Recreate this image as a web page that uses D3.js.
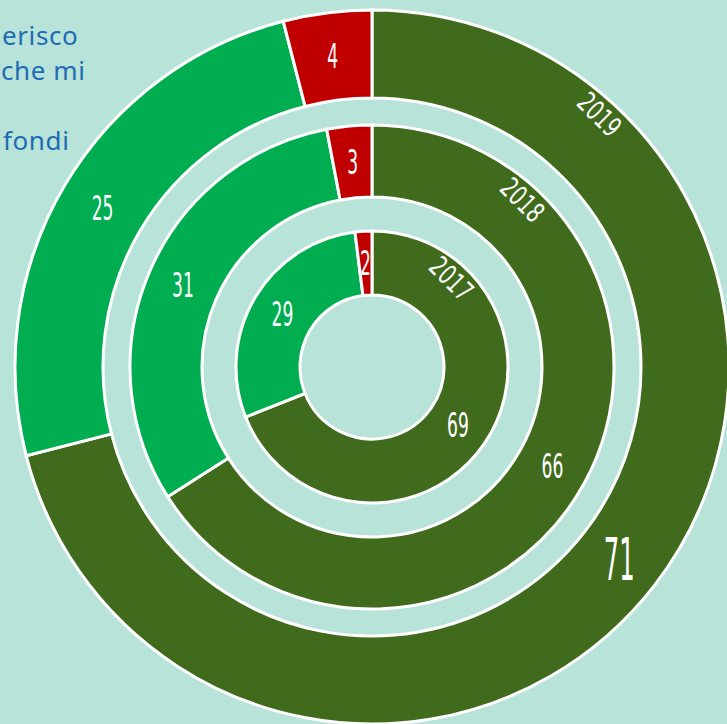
<!DOCTYPE html>
<html>
<head>
<meta charset="utf-8">
<script src="https://cdn.jsdelivr.net/npm/d3@7"></script>
<style>
  html, body { margin: 0; padding: 0; background: #b8e3d9; overflow: hidden; }
</style>
</head>
<body>
<div id="chart"></div>
<script>
// Data (percent of answers per year, rings from inside out)
const years = ["2017", "2018", "2019"];
const darkValues = [69, 66, 71];
const lightValues = [29, 31, 25];
const redValues = [2, 3, 4];
const legendLines = ["erisco", "che mi", "", "fondi"];

const width = 727, height = 724;
const cx = 372, cy = 367;
const bg = "#b8e3d9";
const colors = { dark: "#406b1c", light: "#00ad50", red: "#c00000" };

// ring radii, inner -> outer
const rings = [
  { inner: 72, outer: 136 },
  { inner: 170, outer: 242 },
  { inner: 269, outer: 357 }
];

const svg = d3.select("#chart")
  .append("svg")
  .attr("width", width)
  .attr("height", height);

svg.append("rect")
  .attr("width", width)
  .attr("height", height)
  .attr("fill", bg);

// Legend text, partly hidden behind the chart
svg.append("g")
  .selectAll("text")
  .data(legendLines)
  .enter()
  .append("text")
  .attr("x", (d, i) => [2, 1, 0, 3][i])
  .attr("y", (d, i) => 45 + i * 35)
  .attr("text-anchor", "start")
  .style("font-family", "'Noto Sans', sans-serif")
  .style("font-size", "26px")
  .style("letter-spacing", "0.6px")
  .style("fill", "#1e6cb3")
  .text(d => d);

const pie = d3.pie().sort(null).value(d => d.value);

const g = svg.append("g").attr("transform", `translate(${cx},${cy})`);

const labelFont = "'DejaVu Sans', sans-serif";

years.forEach((year, i) => {
  const r = rings[i];
  const slices = [
    { key: "dark", value: darkValues[i] },
    { key: "light", value: lightValues[i] },
    { key: "red", value: redValues[i] }
  ];
  const arc = d3.arc().innerRadius(r.inner).outerRadius(r.outer);
  const ring = g.append("g");

  ring.selectAll("path")
    .data(pie(slices))
    .enter()
    .append("path")
    .attr("d", arc)
    .attr("fill", d => colors[d.data.key])
    .attr("stroke", "#fff")
    .attr("stroke-width", 3)
    .attr("stroke-linejoin", "miter");

  // value labels
  ring.selectAll("text.val")
    .data(pie(slices))
    .enter()
    .append("text")
    .attr("class", "val")
    .attr("transform", d => {
      const [x, y] = arc.centroid(d);
      const big = i === 2 && d.data.key === "dark";
      return `translate(${x},${y}) scale(${big ? 0.42 : 0.52},1)`;
    })
    .attr("text-anchor", "middle")
    .attr("dy", "0.36em")
    .style("font-family", labelFont)
    .style("font-size", d => (i === 2 && d.data.key === "dark") ? "58px" : "33px")
    .style("fill", "#fff")
    .text(d => d.value);

  // year label along the ring
  const ang = 42 * Math.PI / 180;
  const yr = r.outer - 17;
  ring.append("text")
    .attr("transform", `translate(${yr * Math.sin(ang)},${-yr * Math.cos(ang)}) rotate(45) scale(0.68,1)`)
    .attr("text-anchor", "middle")
    .attr("dy", "0.36em")
    .style("font-family", labelFont)
    .style("font-size", "28px")
    .style("fill", "#fff")
    .text(year);
});
</script>
</body>
</html>
